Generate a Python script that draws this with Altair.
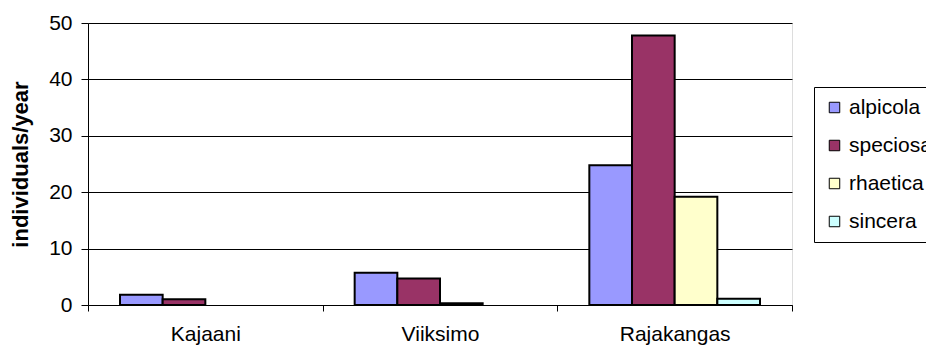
import altair as alt
import pandas as pd

sites = ["Kajaani", "Viiksimo", "Rajakangas"]
species = ["alpicola", "speciosa", "rhaetica", "sincera"]
colors = ["#9999FF", "#993366", "#FFFFCC", "#CCFFFF"]
alpicola = [1.8, 5.7, 24.8]
speciosa = [1.0, 4.7, 47.8]
rhaetica = [0.0, 0.3, 19.2]
sincera = [0.0, 0.0, 1.1]
y_ticks = [0, 10, 20, 30, 40, 50]

series = {"alpicola": alpicola, "speciosa": speciosa, "rhaetica": rhaetica, "sincera": sincera}
rows = []
for sp in species:
    for site, v in zip(sites, series[sp]):
        rows.append({"site": site, "species": sp, "value": v})
df = pd.DataFrame(rows)

FONT = "Liberation Sans"
FS = 21

bars = alt.Chart(df).transform_filter("datum.value > 0").mark_bar(
    stroke="black", strokeWidth=2
).encode(
    x=alt.X("site:N", sort=sites,
            scale=alt.Scale(paddingInner=0, paddingOuter=0),
            axis=alt.Axis(title=None, labelAngle=0, labelFont=FONT, labelFontSize=FS,
                          labelColor="black", tickBand="extent", tickSize=6,
                          tickColor="black", domainColor="black", domainWidth=1,
                          labelPadding=12, grid=False)),
    xOffset=alt.XOffset("species:N", sort=species,
                        scale=alt.Scale(paddingInner=0, paddingOuter=0.75)),
    y=alt.Y("value:Q",
            scale=alt.Scale(domain=[0, 50], nice=False),
            axis=alt.Axis(values=y_ticks, title="individuals/year",
                          labelFont=FONT, labelFontSize=FS, labelColor="black",
                          titleFont=FONT, titleFontSize=22, titleFontWeight="bold",
                          titleColor="black", titleAngle=270,
                          titleX=-68, titleY=141, titleAlign="center",
                          titleBaseline="middle",
                          tickSize=7, tickColor="black", labelPadding=9,
                          domainColor="black", domainWidth=1,
                          grid=True, gridColor="black", gridWidth=1)),
    color=alt.Color("species:N", sort=species,
                    scale=alt.Scale(domain=species, range=colors),
                    legend=alt.Legend(title=None, orient="none",
                                      legendX=726, legendY=64,
                                      symbolType="square", symbolSize=110,
                                      symbolStrokeColor="black", symbolStrokeWidth=1,
                                      labelFont=FONT, labelFontSize=FS,
                                      labelColor="black", rowPadding=16,
                                      strokeColor="black", padding=10,
                                      labelOffset=4, labelLimit=300)),
)

chart = bars.properties(
    width=704, height=282,
    padding={"left": 88, "top": 23, "right": 134, "bottom": 42},
    autosize=alt.AutoSizeParams(type="none"),
).configure_view(
    stroke="#808080", strokeWidth=2
).configure(background="white")

chart.save("out.html", embed_options={"renderer": "svg", "actions": False})
